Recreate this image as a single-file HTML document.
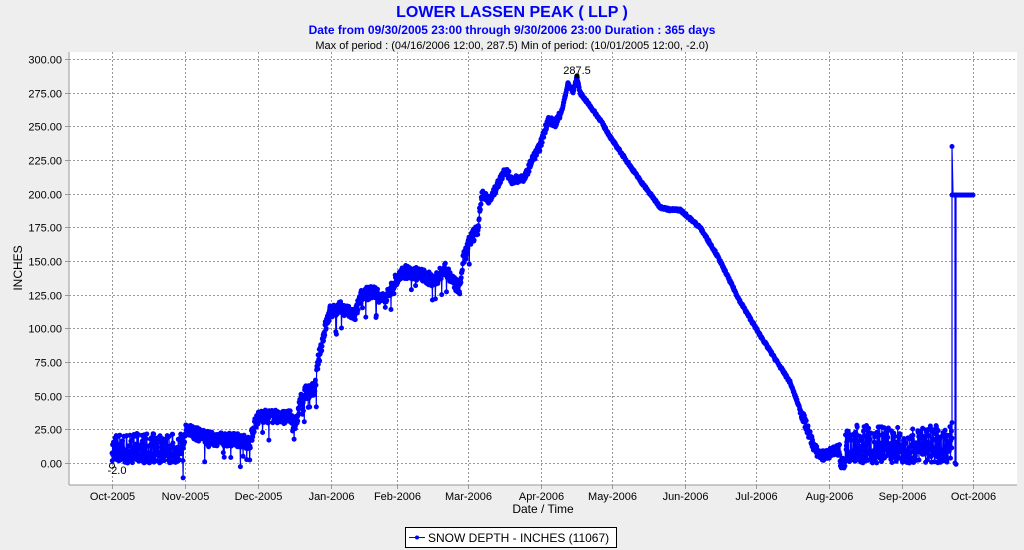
<!DOCTYPE html>
<html><head><meta charset="utf-8"><style>
html,body{margin:0;padding:0;background:#eeeeee;}
svg{display:block;font-family:"Liberation Sans",Arial,sans-serif;}
</style></head><body>
<svg id="s" width="1024" height="550" viewBox="0 0 1024 550" xmlns="http://www.w3.org/2000/svg">
<rect x="0" y="0" width="1024" height="550" fill="#eeeeee"/>
<text x="512" y="17" text-anchor="middle" font-size="16" font-weight="bold" fill="#0000ff">LOWER LASSEN PEAK ( LLP )</text>
<text x="512" y="34" text-anchor="middle" font-size="12" font-weight="bold" fill="#0000ff">Date from 09/30/2005 23:00 through 9/30/2006 23:00 Duration : 365 days</text>
<text x="512" y="49" text-anchor="middle" font-size="11" fill="#000">Max of period : (04/16/2006 12:00, 287.5)  Min of period: (10/01/2005 12:00,  -2.0)</text>
<rect x="69" y="52" width="948" height="433" fill="#ffffff"/>
<g id="grid" stroke="#999" stroke-dasharray="2,2" stroke-width="1"></g>
<g id="data"></g>
<line x1="69" y1="52" x2="69" y2="485" stroke="#999"/>
<line x1="69" y1="485" x2="1017" y2="485" stroke="#999"/>
<g id="labels" font-size="11" fill="#000"></g>
<text x="577" y="74" text-anchor="middle" font-size="11">287.5</text>
<text x="117" y="474" text-anchor="middle" font-size="11">-2.0</text>
<text x="543" y="513" text-anchor="middle" font-size="12">Date / Time</text>
<text x="22" y="268" text-anchor="middle" font-size="12" transform="rotate(-90 22 268)">INCHES</text>
<rect x="405.5" y="527.5" width="211" height="20" fill="#fff" stroke="#000"/>
<line x1="409" y1="537.5" x2="425" y2="537.5" stroke="#0000ff"/>
<circle cx="417" cy="537.5" r="2" fill="#0000ff"/>
<text x="428" y="542" font-size="12">SNOW DEPTH - INCHES (11067)</text>
</svg>
<script>
var NS="http://www.w3.org/2000/svg";
function Y(v){return 463-v*(404/300);}
var g=document.getElementById('grid'),lb=document.getElementById('labels'),d=document.getElementById('data');
function el(p,t,a,txt){var e=document.createElementNS(NS,t);for(var k in a)e.setAttribute(k,a[k]);if(txt)e.textContent=txt;p.appendChild(e);return e;}
for(var v=0;v<=300;v+=25){var y=Math.round(Y(v))+0.5;el(g,'line',{x1:69,x2:1017,y1:y,y2:y});el(lb,'line',{x1:65,x2:69,y1:y,y2:y,stroke:'#999'});el(lb,'text',{x:62,y:y+4,'text-anchor':'end'},v.toFixed(2));}
var ticks=[[112,'Oct-2005'],[185,'Nov-2005'],[258,'Dec-2005'],[331,'Jan-2006'],[397,'Feb-2006'],[468,'Mar-2006'],[541,'Apr-2006'],[612,'May-2006'],[685,'Jun-2006'],[756,'Jul-2006'],[829,'Aug-2006'],[902,'Sep-2006'],[973,'Oct-2006']];
ticks.forEach(function(t){var x=t[0]+0.5;el(g,'line',{x1:x,x2:x,y1:52,y2:485});el(lb,'line',{x1:x,x2:x,y1:485,y2:489,stroke:'#999'});el(lb,'text',{x:x,y:500,'text-anchor':'middle'},t[1]);});
var seed=7;function r(){seed=(seed*16807)%2147483647;return seed/2147483647;}
var K=[[183,5],[186,27],[195,22],[210,18],[240,17],[250,15],[255,30],[260,35],[290,34],[296,28],[300,45],[305,52],[315,55],[318,75],[325,100],[330,112],[340,115],[355,110],[362,125],[375,127],[385,120],[395,135],[405,142],[420,140],[435,135],[445,145],[452,135],[460,130],[463,150],[470,165],[478,175],[482,200],[490,195],[500,210],[505,218],[512,210],[525,212],[532,225],[540,235],[548,255],[555,252],[562,262],[568,282],[573,275],[577,287],[580,275],[590,265],[600,255],[612,240],[640,210],[660,190],[670,188],[680,188],[700,175],[715,157],[720,150],[740,120],[760,95],[790,60],[805,30],[815,10],[822,5],[840,10]];
function interp(x){for(var i=0;i<K.length-1;i++){if(x>=K[i][0]&&x<=K[i+1][0]){var t=(x-K[i][0])/(K[i+1][0]-K[i][0]);return K[i][1]+t*(K[i+1][1]-K[i][1]);}}return 0;}
var pts=[];
for(var x=112;x<952;){var v,st=0.3;
 if(x<183){v=r()<0.5?r()*8:4+r()*18;st=0.3;}
 else if(x>=845){v=r()<0.5?r()*10:8+r()*20;st=0.3;}
 else{var base=interp(x);var amp=(x<480)?5:(x<560?3:1);if(x>800)amp=4;v=base+(r()-0.5)*2*amp;if(x<470&&r()<0.03)v-=8+r()*10;}
 pts.push([x,v]);x+=st;}
pts.push([952,30],[952,235],[953,199],[955,199],[955,0],[956,-1],[956,199],[973,199]);
var s='';pts.forEach(function(p){s+=p[0].toFixed(1)+','+Y(p[1]).toFixed(1)+' ';});
el(d,'polyline',{points:s,fill:'none',stroke:'#0000ff','stroke-width':1.2});
var c='';pts.forEach(function(p){var X=p[0],YY=Y(p[1]);c+='M'+(X-2.5).toFixed(1)+','+YY.toFixed(1)+'a2.5,2.5 0 1,0 5,0a2.5,2.5 0 1,0 -5,0';});
for(var x=952;x<=973;x+=1.5){var YY=Y(199);c+='M'+(x-2.5)+','+YY+'a2.5,2.5 0 1,0 5,0a2.5,2.5 0 1,0 -5,0';}
el(d,'path',{d:c,fill:'#0000ff'});
el(d,'circle',{cx:577,cy:Y(287.5),r:2.5,fill:'#000'});
el(d,'circle',{cx:112,cy:Y(-2),r:2.5,fill:'none',stroke:'#000'});
</script>
</body></html>
